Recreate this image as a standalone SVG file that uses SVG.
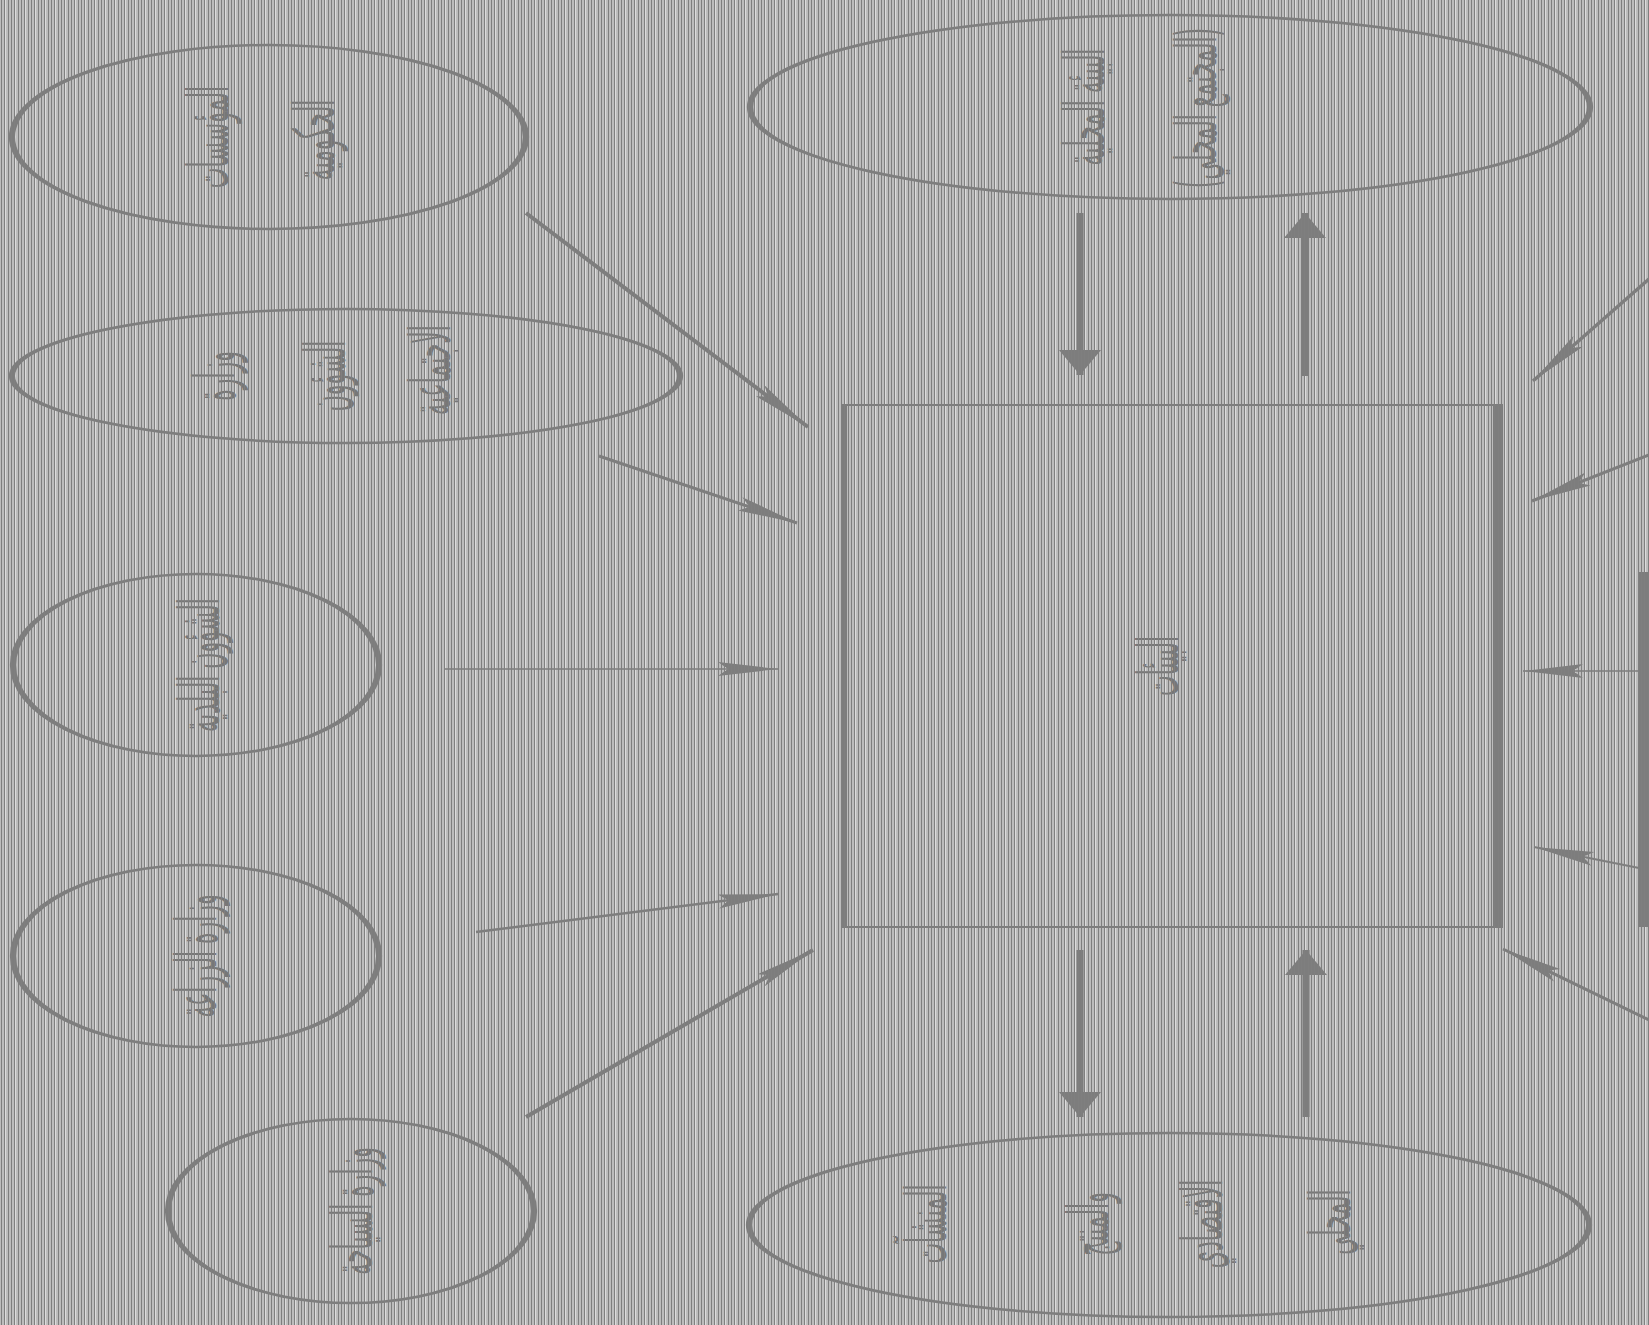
<svg xmlns="http://www.w3.org/2000/svg" width="1649" height="1325" viewBox="0 0 1649 1325">
<defs>
<pattern id="base" width="10" height="10" patternUnits="userSpaceOnUse">
<rect width="10" height="10" fill="#bdbdbd"/>
<rect x="5" width="1" height="10" fill="#dcdcdc"/>
</pattern>
<pattern id="over" width="10" height="10" patternUnits="userSpaceOnUse">
<rect x="1" width="1" height="10" fill="#7f7f7f"/>
<rect x="4" width="1" height="10" fill="#7f7f7f"/>
<rect x="8" width="1" height="10" fill="#7f7f7f"/>
</pattern>
<marker id="thin" markerUnits="userSpaceOnUse" markerWidth="64" markerHeight="20" viewBox="0 -10 64 20" refX="60" refY="0" orient="auto">
<path d="M0,-7 L60,0 L0,7 L10,0 z" fill="#7d7d7d"/>
</marker>
<marker id="big" markerUnits="userSpaceOnUse" markerWidth="28" markerHeight="46" viewBox="0 -23 28 46" refX="25" refY="0" orient="auto">
<path d="M0,-21 L25,0 L0,21 z" fill="#7d7d7d"/>
</marker>
</defs>
<style>
.e { fill: none; stroke: #7d7d7d; stroke-width: 2.5; }
.t { font-family: "DejaVu Sans", "Noto Sans", sans-serif; font-size: 22px; fill: #777777; text-anchor: middle; dominant-baseline: central; }
.c { fill: none; stroke: #7d7d7d; stroke-linecap: butt; marker-end: url(#thin); }
.v { fill: none; stroke: #7d7d7d; stroke-width: 7; marker-end: url(#big); }
</style>
<rect width="1649" height="1325" fill="url(#base)"/>

<g id="node-gov">
<ellipse class="e" transform="translate(269,137) scale(2.5,1)" cx="0" cy="0" rx="102.8" ry="92"/>
<text class="t" transform="translate(208,137) scale(2.6,1) rotate(-90)">المؤسسات</text>
<text class="t" transform="translate(314,140) scale(2.6,1) rotate(-90)">الحكومية</text>
</g>
<g id="node-social">
<ellipse class="e" transform="translate(346,376) scale(2.5,1)" cx="0" cy="0" rx="133.6" ry="67"/>
<text class="t" transform="translate(214,376) scale(2.6,1) rotate(-90)">وزارة</text>
<text class="t" transform="translate(325,376) scale(2.6,1) rotate(-90)">الشؤون</text>
<text class="t" transform="translate(430,370) scale(2.6,1) rotate(-90)">الاجتماعية</text>
</g>
<g id="node-municipal">
<ellipse class="e" transform="translate(196,665) scale(2.5,1)" cx="0" cy="0" rx="73.2" ry="91"/>
<text class="t" transform="translate(199,665) scale(2.6,1) rotate(-90)">الشؤون البلدية</text>
</g>
<g id="node-agri">
<ellipse class="e" transform="translate(196,956) scale(2.5,1)" cx="0" cy="0" rx="73.2" ry="91"/>
<text class="t" transform="translate(196,956) scale(2.6,1) rotate(-90)">وزارة الزراعة</text>
</g>
<g id="node-tourism">
<ellipse class="e" transform="translate(351,1211) scale(2.5,1)" cx="0" cy="0" rx="73.2" ry="92"/>
<text class="t" transform="translate(352,1211) scale(2.6,1) rotate(-90)">وزارة السياحة</text>
</g>
<g id="node-local">
<ellipse class="e" transform="translate(1170,107) scale(2.5,1)" cx="0" cy="0" rx="168" ry="92"/>
<text class="t" transform="translate(1084,107) scale(2.6,1) rotate(-90)">البيئة المحلية</text>
<text class="t" transform="translate(1196,108) scale(2.6,1) rotate(-90)">(المجتمع المحلي)</text>
</g>
<g id="node-economy">
<ellipse class="e" transform="translate(1169,1225) scale(2.5,1)" cx="0" cy="0" rx="168" ry="92"/>
<text class="t" transform="translate(926,1224) scale(2.6,1) rotate(-90)">المنشآت</text>
<text class="t" transform="translate(1088,1224) scale(2.6,1) rotate(-90)">والمنتج</text>
<text class="t" transform="translate(1202,1224) scale(2.6,1) rotate(-90)">الاقتصادي</text>
<text class="t" transform="translate(1330,1222) scale(2.6,1) rotate(-90)">المحلي</text>
</g>
<g id="node-center">
<rect x="843" y="405" width="654" height="522" fill="none" stroke="#7d7d7d" stroke-width="2"/>
<rect x="841" y="404" width="6" height="524" fill="#7d7d7d"/>
<rect x="1493" y="404" width="10" height="524" fill="#7d7d7d"/>
<text class="t" transform="translate(1158,666) scale(2.6,1) rotate(-90)">البيئات</text>
</g>
<g id="node-right">
<rect x="1639" y="572" width="10" height="355" fill="#7d7d7d"/>
</g>

<g id="connectors">
<path class="c" stroke-width="4" d="M526,213 L808,427"/>
<path class="c" stroke-width="3" d="M599,456 L797,523"/>
<path class="c" stroke-width="1.5" d="M444,669 L778,669"/>
<path class="c" stroke-width="2.5" d="M476,932 L778,894"/>
<path class="c" stroke-width="4" d="M526,1117 L813,950"/>
<path class="c" stroke-width="3.5" d="M1649,279 L1533,381"/>
<path class="c" stroke-width="3" d="M1649,455 L1532,501"/>
<path class="c" stroke-width="1.5" d="M1639,671 L1523,671"/>
<path class="c" stroke-width="2" d="M1639,868 L1534,847"/>
<path class="c" stroke-width="3" d="M1649,1020 L1503,949"/>
<path class="v" d="M1080,213 L1080,375"/>
<path class="v" d="M1305,376 L1305,213"/>
<path class="v" d="M1080,950 L1080,1117"/>
<path class="v" d="M1306,1117 L1306,950"/>
</g>

<rect width="1649" height="1325" fill="url(#over)" pointer-events="none"/>
</svg>
